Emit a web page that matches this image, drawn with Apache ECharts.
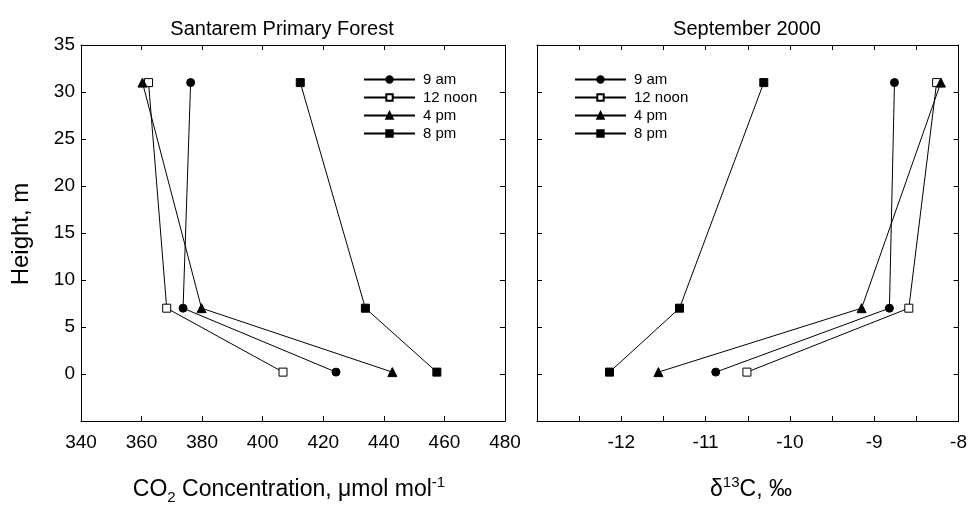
<!DOCTYPE html>
<html>
<head>
<meta charset="utf-8">
<script src="https://cdn.jsdelivr.net/npm/echarts@6/dist/echarts.min.js"></script>
<style>
html,body{margin:0;padding:0;background:#fff;}
#chart{width:970px;height:507px;}
</style>
</head>
<body>
<div id="chart"></div>
<script>
// ---- data ----
const heights = [0.2, 7, 31];
const seriesNames = ['9 am', '12 noon', '4 pm', '8 pm'];
const co2_9am    = [424.2, 373.7, 376.2];
const co2_12noon = [406.7, 368.3, 362.3];
const co2_4pm    = [442.8, 379.8, 360.3];
const co2_8pm    = [457.5, 433.9, 412.4];
const d13c_9am    = [-10.88, -8.82, -8.76];
const d13c_12noon = [-10.51, -8.59, -8.26];
const d13c_4pm    = [-11.56, -9.15, -8.21];
const d13c_8pm    = [-12.14, -11.31, -10.31];
const yTickLabels = ['0', '5', '10', '15', '20', '25', '30', '35'];
const co2TickLabels = ['340', '360', '380', '400', '420', '440', '460', '480'];
const d13cTickLabels = ['-12', '-11', '-10', '-9', '-8'];
const leftTitle = 'Santarem Primary Forest';
const rightTitle = 'September 2000';

const FONT = '"Liberation Sans", Arial, Helvetica, sans-serif';
const co2Sets = [co2_9am, co2_12noon, co2_4pm, co2_8pm];
const d13cSets = [d13c_9am, d13c_12noon, d13c_4pm, d13c_8pm];
const symbols = ['circle', 'rect', 'triangle', 'rect'];
const fills = ['#000', '#fff', '#000', '#000'];
const sizes = [8, 8, 9, 8];

function pairs(xs) { return xs.map((x, i) => [x, heights[i]]); }

const chart = echarts.init(document.getElementById('chart'), null, {renderer: 'canvas'});

const grids = [
  {left: 81, top: 45, width: 424, height: 376},
  {left: 537, top: 45, width: 425, height: 376}
];

function xMain(gi, min, max, interval, labels) {
  return {
    type: 'value', gridIndex: gi, position: 'bottom', min, max, interval,
    axisLine: {show: true, onZero: false, lineStyle: {color: '#000', width: 1}},
    axisTick: {show: true, inside: true, length: 5, lineStyle: {color: '#000'}},
    splitLine: {show: false},
    axisLabel: {
      show: true, margin: 12, color: '#000', fontFamily: FONT, fontSize: 19,
      formatter: v => { const s = String(Math.round(v * 100) / 100); return labels.indexOf(s) >= 0 ? s : ''; }
    }
  };
}
function xTop(gi, min, max, interval) {
  return {
    type: 'value', gridIndex: gi, position: 'top', min, max, interval,
    axisLine: {show: true, onZero: false, lineStyle: {color: '#000', width: 1}},
    axisTick: {show: true, inside: true, length: 5, lineStyle: {color: '#000'}},
    splitLine: {show: false}, axisLabel: {show: false}
  };
}
function yAxis(gi, pos, showLabels) {
  return {
    type: 'value', gridIndex: gi, position: pos, min: -5, max: 35, interval: 5,
    axisLine: {show: true, onZero: false, lineStyle: {color: '#000', width: 1}},
    axisTick: {show: true, inside: true, length: 5, lineStyle: {color: '#000'}},
    splitLine: {show: false},
    axisLabel: {
      show: showLabels, margin: 6, color: '#000', fontFamily: FONT, fontSize: 19,
      formatter: v => yTickLabels.indexOf(String(v)) >= 0 ? String(v) : ''
    }
  };
}

const series = [];
seriesNames.forEach((name, i) => {
  series.push({
    name, type: 'line', xAxisIndex: 0, yAxisIndex: 0, data: pairs(co2Sets[i]),
    symbol: symbols[i], symbolSize: sizes[i], showAllSymbol: true,
    lineStyle: {color: '#000', width: 1},
    itemStyle: {color: fills[i], borderColor: '#000', borderWidth: 1},
    emphasis: {disabled: true}, animation: false, z: 3
  });
});
seriesNames.forEach((name, i) => {
  series.push({
    name, type: 'line', xAxisIndex: 2, yAxisIndex: 2, data: pairs(d13cSets[i]),
    symbol: symbols[i], symbolSize: sizes[i], showAllSymbol: true,
    lineStyle: {color: '#000', width: 1},
    itemStyle: {color: fills[i], borderColor: '#000', borderWidth: 1},
    emphasis: {disabled: true}, animation: false, z: 3
  });
});

function legend(left) {
  return {
    orient: 'vertical', left, top: 67, itemWidth: 51, itemHeight: 8, itemGap: 3,
    data: seriesNames, selectedMode: false,
    textStyle: {color: '#000', fontFamily: FONT, fontSize: 15, padding: [0, 0, 0, 3]},
    inactiveColor: '#000'
  };
}

const subRich = {
  n: {fontFamily: FONT, fontSize: 23, color: '#000', lineHeight: 30, verticalAlign: 'middle'},
  sub: {fontFamily: FONT, fontSize: 15, color: '#000', lineHeight: 30, verticalAlign: 'bottom', padding: [0, 0, 0, 0]},
  sup: {fontFamily: FONT, fontSize: 15, color: '#000', lineHeight: 30, verticalAlign: 'top'}
};

chart.setOption({
  animation: false,
  backgroundColor: '#fff',
  grid: grids,
  xAxis: [
    xMain(0, 340, 480, 20, co2TickLabels),
    xTop(0, 340, 480, 20),
    xMain(1, -13, -8, 0.5, d13cTickLabels),
    xTop(1, -13, -8, 0.5)
  ],
  yAxis: [
    yAxis(0, 'left', true), yAxis(0, 'right', false),
    yAxis(1, 'left', false), yAxis(1, 'right', false)
  ],
  legend: [legend(358), legend(569)],
  series,
  graphic: [
    {type: 'text', x: 282, y: 29, style: {text: leftTitle, fontFamily: FONT, fontSize: 20, fill: '#000', textAlign: 'center', textVerticalAlign: 'middle'}},
    {type: 'text', x: 747, y: 29, style: {text: rightTitle, fontFamily: FONT, fontSize: 20, fill: '#000', textAlign: 'center', textVerticalAlign: 'middle'}},
    {type: 'text', x: 21, y: 234, rotation: Math.PI / 2, style: {text: 'Height, m', fontFamily: FONT, fontSize: 24, fill: '#000', textAlign: 'center', textVerticalAlign: 'middle'}},
    {type: 'text', x: 289, y: 490, style: {
      text: '{n|CO}{sub|2}{n| Concentration, μmol mol}{sup|-1}', textAlign: 'center', textVerticalAlign: 'middle', rich: subRich}},
    {type: 'text', x: 751, y: 490, style: {
      text: '{n|δ}{sup|13}{n|C, ‰}', textAlign: 'center', textVerticalAlign: 'middle', rich: subRich}}
  ]
});
</script>
</body>
</html>
